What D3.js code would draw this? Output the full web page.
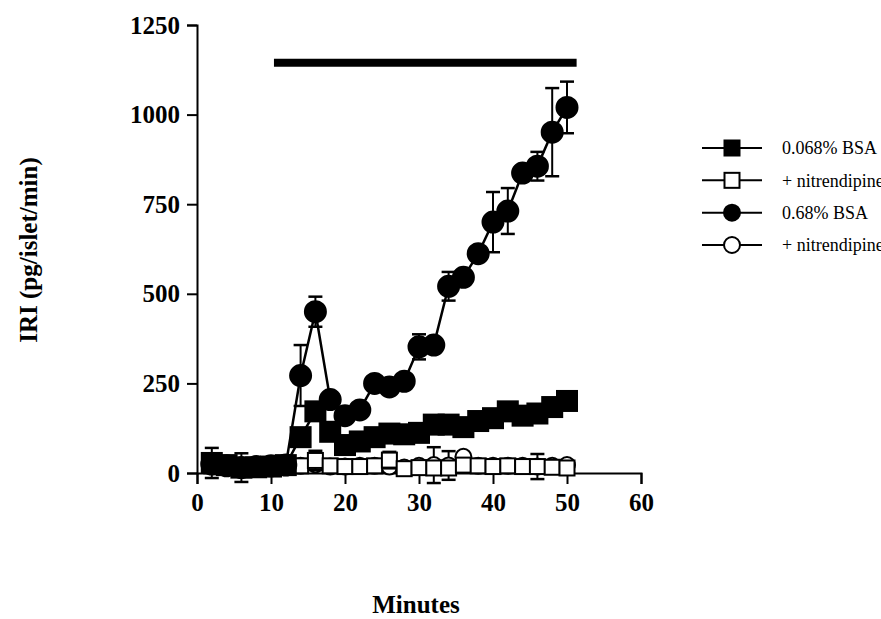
<!DOCTYPE html>
<html>
<head>
<meta charset="utf-8">
<script src="https://cdn.jsdelivr.net/npm/d3@7"></script>
<style>
  html, body { margin: 0; padding: 0; background: #fff; }
  svg { display: block; }
  .bold-real { font-family: "Liberation Serif"; font-weight: 700; }
</style>
</head>
<body>
<svg id="chart" width="881" height="619"></svg>
<script>
// ---------- DATA ----------
const minutes = [2,4,6,8,10,12,14,16,18,20,22,24,26,28,30,32,34,36,38,40,42,44,46,48,50];

// 0.068% BSA (filled squares)
const bsaLow      = [28,22,15,16,18,22,100,172,115,78,88,100,110,108,112,135,135,128,145,153,172,160,166,184,201];
const bsaLowErr   = [42,20,40,10,10,10,15,20,15,10,10,10,10,10,10,10,10,10,10,10,10,10,10,10,15];

// 0.068% BSA + nitrendipine (open squares)
const bsaLowNit    = [20,18,15,15,18,20,20,35,20,18,18,20,36,12,15,14,14,22,20,18,20,18,18,16,14];
const bsaLowNitErr = [8,8,8,8,8,8,8,27,8,8,8,8,23,8,8,8,8,8,8,8,8,8,8,8,8];

// 0.68% BSA (filled circles)
const bsaHigh     = [25,20,15,18,20,22,272,450,205,160,176,250,240,256,352,357,521,546,612,700,731,837,856,951,1020];
const bsaHighErr  = [10,10,10,10,10,10,85,42,20,15,15,15,15,15,35,15,40,20,20,84,64,20,40,123,72];

// 0.68% BSA + nitrendipine (open circles)
const bsaHighNit    = [20,18,16,16,18,20,20,24,18,18,20,20,18,15,20,22,21,45,20,20,20,20,18,20,22];
const bsaHighNitErr = [8,8,8,8,8,8,8,8,8,8,8,8,8,8,8,50,40,8,8,8,8,8,35,8,8];

// stimulus period bar (minutes) and its level
const stimulusBar = [10.4, 51.3];
const stimulusLevel = 1145;

const xTicks = [0,10,20,30,40,50,60];
const yTicks = [0,250,500,750,1000,1250];

const legendLabels = ["0.068% BSA", "+ nitrendipine", "0.68% BSA", "+ nitrendipine"];

// ---------- CHART ----------
const svg = d3.select("#chart");

const x = d3.scaleLinear().domain([0,60]).range([197,641]);
const y = d3.scaleLinear().domain([0,1250]).range([473,25]);

const series = [
  {vals: bsaHighNit, err: bsaHighNitErr, shape: "circle", fill: "#fff"},
  {vals: bsaLowNit,  err: bsaLowNitErr,  shape: "square", fill: "#fff"},
  {vals: bsaLow,     err: bsaLowErr,     shape: "square", fill: "#000"},
  {vals: bsaHigh,    err: bsaHighErr,    shape: "circle", fill: "#000"}
];

const line = d3.line().x(d => x(d.t)).y(d => y(d.v));

// axes
const yAxis = d3.axisLeft(y).tickValues(yTicks).tickSize(10).tickPadding(7).tickFormat(d3.format("d"));
const xAxis = d3.axisBottom(x).tickValues(xTicks).tickSize(11).tickPadding(9).tickFormat(d3.format("d"));

const gy = svg.append("g").attr("transform", "translate(197,0)").call(yAxis);
const gx = svg.append("g").attr("transform", "translate(0,473)").call(xAxis);
[gx, gy].forEach(g => {
  g.attr("font-family", null).attr("font-size", null);
  g.select(".domain").attr("stroke", "#000").attr("stroke-width", 2);
  g.selectAll(".tick line").attr("stroke", "#000").attr("stroke-width", 2);
  g.selectAll(".tick text").attr("fill", "#000").attr("class", "bold-real")
    .style("font-size", "25px");
});

// stimulus bar
svg.append("line")
  .attr("x1", x(stimulusBar[0])).attr("x2", x(stimulusBar[1]))
  .attr("y1", y(stimulusLevel)).attr("y2", y(stimulusLevel))
  .attr("stroke", "#000").attr("stroke-width", 8);

// series
series.forEach(s => {
  const pts = minutes.map((t,i) => ({t, v: s.vals[i], e: s.err[i]}));
  const g = svg.append("g");
  pts.forEach(p => {
    g.append("line").attr("x1", x(p.t)).attr("x2", x(p.t))
      .attr("y1", y(p.v - p.e)).attr("y2", y(p.v + p.e))
      .attr("stroke", "#000").attr("stroke-width", 2);
    [p.v - p.e, p.v + p.e].forEach(v => {
      g.append("line").attr("x1", x(p.t) - 7).attr("x2", x(p.t) + 7)
        .attr("y1", y(v)).attr("y2", y(v))
        .attr("stroke", "#000").attr("stroke-width", 2.5);
    });
  });
  g.append("path").datum(pts).attr("d", line)
    .attr("fill", "none").attr("stroke", "#000").attr("stroke-width", 2.5);
  pts.forEach(p => {
    if (s.shape === "circle") {
      const r = s.fill === "#000" ? 10.5 : 8;
      g.append("circle").attr("cx", x(p.t)).attr("cy", y(p.v)).attr("r", r)
        .attr("fill", s.fill).attr("stroke", "#000").attr("stroke-width", 2);
    } else {
      const a = s.fill === "#000" ? 20 : 15;
      g.append("rect").attr("x", x(p.t) - a/2).attr("y", y(p.v) - a/2)
        .attr("width", a).attr("height", a)
        .attr("fill", s.fill).attr("stroke", "#000").attr("stroke-width", 2);
    }
  });
});

// axis titles
svg.append("text")
  .attr("class", "bold-real")
  .attr("transform", "translate(37,250) rotate(-90)")
  .attr("text-anchor", "middle")
  .style("font-size", "25px")
  .text("IRI (pg/islet/min)");

svg.append("text")
  .attr("class", "bold-real")
  .attr("x", 416).attr("y", 613)
  .attr("text-anchor", "middle")
  .style("font-size", "25px")
  .text("Minutes");

// legend
const legendShapes = [
  {shape: "square", fill: "#000"},
  {shape: "square", fill: "#fff"},
  {shape: "circle", fill: "#000"},
  {shape: "circle", fill: "#fff"}
];
const legY = d3.scaleLinear().domain([0,3]).range([148,245]);
legendLabels.forEach((lab, i) => {
  const yy = legY(i);
  const g = svg.append("g");
  g.append("line").attr("x1", 702).attr("x2", 762).attr("y1", yy).attr("y2", yy)
    .attr("stroke", "#000").attr("stroke-width", 2);
  const sh = legendShapes[i];
  if (sh.shape === "square") {
    g.append("rect").attr("x", 732 - 7.5).attr("y", yy - 7.5).attr("width", 15).attr("height", 15)
      .attr("fill", sh.fill).attr("stroke", "#000").attr("stroke-width", 2);
  } else {
    g.append("circle").attr("cx", 732).attr("cy", yy).attr("r", 8)
      .attr("fill", sh.fill).attr("stroke", "#000").attr("stroke-width", 2);
  }
  g.append("text").attr("x", 782).attr("y", yy).attr("dy", "0.35em")
    .style("font-family", "Liberation Serif").style("font-size", "18px")
    .text(lab);
});
</script>
</body>
</html>
